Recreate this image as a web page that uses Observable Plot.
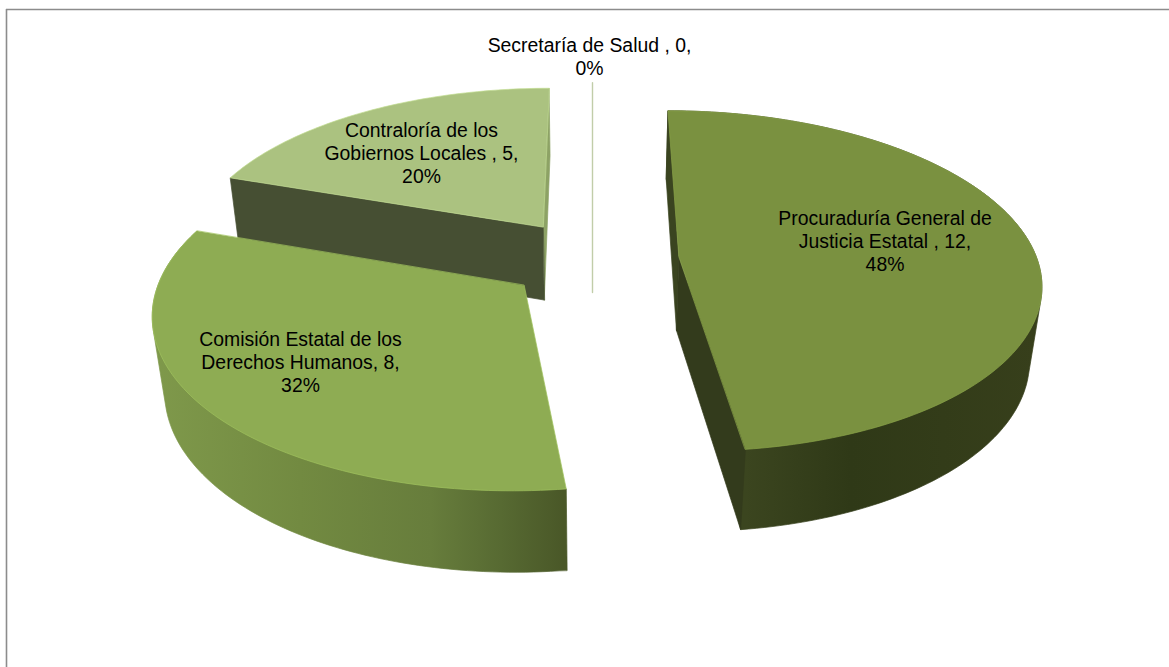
<!DOCTYPE html>
<html><head><meta charset="utf-8">
<script src="https://cdn.jsdelivr.net/npm/d3@7"></script>
<script src="https://cdn.jsdelivr.net/npm/@observablehq/plot@0.6"></script>
<style>html,body{margin:0;padding:0;background:#fff;overflow:hidden}svg{display:block}</style>
</head><body><div id="chart"></div>
<script>
// Data
const categories = ["Procuraduría General de Justicia Estatal", "Comisión Estatal de los Derechos Humanos", "Contraloría de los Gobiernos Locales", "Secretaría de Salud"];
const values = [12, 8, 5, 0];
const percents = [48, 32, 20, 0];
const labelLines = [
  "Procuraduría General de\nJusticia Estatal , 12,\n48%",
  "Comisión Estatal de los\nDerechos Humanos, 8,\n32%",
  "Contraloría de los\nGobiernos Locales , 5,\n20%",
  "Secretaría de Salud , 0,\n0%"
];
// Styles
const topColors = ["#7a9140", "#8eac53", "#abc280", "#c1cda9"];
const labelX = [884.5, 300, 421, 589];
const labelY = [240, 361, 152, 56];
const gradC = {id: "gradC", x: [150, 300, 430, 500, 562], c: ["#7f994b", "#728a41", "#677d3c", "#576a32", "#4a5828"]};
const gradP = {id: "gradP", x: [745, 850, 1035], c: ["#3b451f", "#2f3917", "#373f1b"]};

// Perspective camera for the exploded 3-D pie
const W = 1169, Ht = 667;
const cam = {cx: 592, horizon: -902, nadir: 3000, G: 0.3086, w0: 8.617e-4, kw: 1.243e-4, c: 2.33e-5, explode: 0.242};
function projTop(X, Y) {
  const d = 1 / (cam.w0 + cam.kw * Y);
  return [cam.cx + cam.G * X * d, cam.horizon + d];
}
function projBottom(X, Y) {
  const [sx, sy] = projTop(X, Y);
  const u = cam.c * (sy - cam.horizon);
  return [sx - (sx - cam.cx) * u, sy + (cam.nadir - sy) * u];
}
const deg = Math.PI / 180;
// The 3-D view skews angles slightly on the far-left side of the pie
const warp = d3.scaleLinear().domain([0, 172.8 * deg, 288 * deg, 360 * deg]).range([0, 172.8 * deg, 289 * deg, 360 * deg]);
const arcs = d3.pie().sort(null).value((d) => d)(values);
const geo = arcs.map((a) => {
  const mid = (a.startAngle + a.endAngle) / 2;
  const ax = cam.explode * Math.sin(mid), ay = cam.explode * Math.cos(mid);
  return {a, apex: [ax, ay], rim: (t) => [ax + Math.sin(warp(t)), ay + Math.cos(warp(t))]};
});
const polys = [];
let pid = 0;
function poly(points, fill, stroke) {
  const id = pid++;
  points.forEach(([x, y]) => polys.push({x, y, id, fill, stroke: stroke || fill}));
}
function sweep(a0, a1, step = 0.02) {
  const n = Math.max(1, Math.ceil((a1 - a0) / step));
  return d3.range(n + 1).map((i) => a0 + (a1 - a0) * i / n);
}
function topFace(g, fill) {
  const pts = [projTop(...g.apex), ...sweep(g.a.startAngle, g.a.endAngle).map((t) => projTop(...g.rim(t)))];
  poly(pts, fill, d3.color(fill).brighter(0.35).formatHex());
}
function radial(g, t, fill) {
  poly([projTop(...g.apex), projTop(...g.rim(t)), projBottom(...g.rim(t)), projBottom(...g.apex)], fill);
}
// Outer wall: hull of the top and bottom rims, later overlapped by the slice's own top face
function outer(g, grad) {
  const ts = sweep(g.a.startAngle, g.a.endAngle);
  const fill = `url(#${grad.id})`;
  const pts = ts.flatMap((t) => [projTop(...g.rim(t)), projBottom(...g.rim(t))]);
  poly(d3.polygonHull(pts), fill, fill);
}
const [gP, gC, gL, gS] = geo;

radial(gL, gL.a.endAngle, "#8da265");
radial(gL, gL.a.startAngle, "#464f33");
topFace(gL, topColors[2]);
const firstFront = pid;
const secLine = [projTop(...gS.rim(gS.a.startAngle)), projBottom(...gS.apex)];
outer(gC, gradC);
topFace(gC, topColors[1]);
outer(gP, gradP);
radial(gP, gP.a.startAngle, "#3a4420");
radial(gP, gP.a.endAngle, "#333b1c");
topFace(gP, topColors[0]);

const labels = labelLines.map((text, i) => ({text, x: labelX[i], y: labelY[i]}));
const polyOpts = {x: "x", y: "y", z: "id", fill: {value: "fill", scale: null}, stroke: {value: "stroke", scale: null}, strokeWidth: 0.7, curve: "linear-closed"};

const plot = Plot.plot({
  width: W, height: Ht,
  margin: 0,
  x: {domain: [0, W], range: [0, W], axis: null},
  y: {domain: [0, Ht], range: [0, Ht], axis: null},
  marks: [
    Plot.ruleY([9], {x1: 6, x2: W, stroke: "#8c8c8c", strokeWidth: 1.6}),
    Plot.ruleX([6], {y1: 9, y2: Ht, stroke: "#8c8c8c", strokeWidth: 1.6}),
    Plot.line(polys.filter((d) => d.id < firstFront), polyOpts),
    Plot.line(secLine, {x: (d) => d[0], y: (d) => d[1], stroke: topColors[3], strokeWidth: 1.4}),
    Plot.line(polys.filter((d) => d.id >= firstFront), polyOpts),
    Plot.text(labels, {x: "x", y: "y", text: "text", fontSize: 19.4, lineHeight: 1.186, fill: "#000", fontFamily: "Liberation Sans, Arial, sans-serif", textAnchor: "middle"})
  ]
});
// Side-wall shading: horizontal gradients in plot coordinates
const defs = d3.select(plot).insert("defs", ":first-child");
for (const g of [gradC, gradP]) {
  const lg = defs.append("linearGradient").attr("id", g.id).attr("gradientUnits", "userSpaceOnUse")
    .attr("x1", g.x[0]).attr("x2", g.x[g.x.length - 1]).attr("y1", 0).attr("y2", 0);
  g.x.forEach((x, i) => lg.append("stop")
    .attr("offset", (x - g.x[0]) / (g.x[g.x.length - 1] - g.x[0]))
    .attr("stop-color", g.c[i]));
}
document.getElementById("chart").append(plot);
</script>
</body></html>
